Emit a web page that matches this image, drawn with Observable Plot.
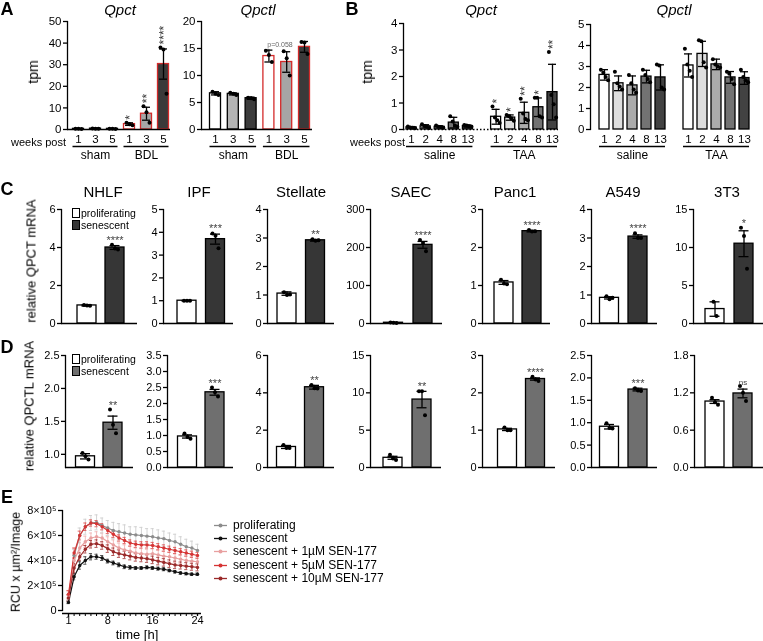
<!DOCTYPE html>
<html><head><meta charset="utf-8">
<script src="https://cdn.jsdelivr.net/npm/d3@7"></script>
<script src="https://cdn.jsdelivr.net/npm/@observablehq/plot@0.6"></script>
<style>
body{margin:0;background:#fff;font-family:Arial,"Liberation Sans",sans-serif;color:#000;}
#fig{position:relative;width:763px;height:641px;overflow:hidden;background:#fff;}
.abs{position:absolute;white-space:nowrap;opacity:0.999;will-change:transform;}
</style></head><body><div id="fig"></div>
<script>
// ---------------- DATA ----------------
// Panel A (tpm, mean, SD, replicates)
const aGroups = ["sham", "BDL"];
const aWeeks = ["1", "3", "5"];
const aQpctMean = [0.3, 0.4, 0.3, 2.5, 7.3, 30.3];
const aQpctErr = [0.1, 0.1, 0.1, 0.6, 3.0, 7.0];
const aQpctPts = [[0.3,0.3,0.2],[0.5,0.4,0.3],[0.3,0.3,0.2],[3.1,2.4,2.0],[10.8,8.0,3.1],[38,37,16.5]];
const aQpctStars = ["", "", "", "*", "**", "****"];
const aQpctTicks = [0, 10, 20, 30, 40, 50];
const aQpctlMean = [6.7, 6.6, 5.8, 13.6, 12.5, 15.3];
const aQpctlErr = [0.3, 0.2, 0.2, 1.1, 1.9, 1.0];
const aQpctlPts = [[7.0,6.6,6.4],[6.8,6.6,6.4],[5.9,5.8,5.6],[14.6,13.8,12.5],[14.5,13.2,10.0],[16.2,16.1,14.0]];
const aQpctlTicks = [0, 5, 10, 15, 20];
const aQpctlNote = "p=0.058";

// Panel B
const bGroups = ["saline", "TAA"];
const bWeeks = ["1", "2", "4", "8", "13"];
const bQpctMean = [0.08,0.12,0.10,0.26,0.13, 0.48,0.45,0.63,0.84,1.41];
const bQpctErr = [0.03,0.06,0.04,0.2,0.04, 0.28,0.1,0.4,0.35,1.05];
const bQpctPts = [[0.11,0.08,0.07,0.05],[0.2,0.13,0.1,0.06],[0.15,0.1,0.09,0.07],[0.5,0.3,0.15,0.1],[0.17,0.15,0.12,0.1],
                  [0.87,0.45,0.35,0.25],[0.55,0.5,0.42,0.33],[1.16,0.6,0.4,0.35],[1.2,1.2,0.5,0.45],[2.92,1.3,0.95,0.45]];
const bQpctStars = ["", "", "", "", "", "*", "*", "**", "*", "**"];
const bQpctTicks = [0, 1, 2, 3, 4];
const bQpctlMean = [2.6,2.2,2.1,2.52,2.48, 3.05,3.6,3.1,2.48,2.45];
const bQpctlErr = [0.25,0.35,0.45,0.3,0.6, 0.55,0.6,0.25,0.28,0.3];
const bQpctlPts = [[2.85,2.7,2.5,2.35],[2.75,2.2,2.05,1.9],[2.6,2.2,1.9,1.75],[2.85,2.6,2.4,2.25],[3.1,3.05,2.0,1.9],
                   [3.85,3.1,2.8,2.5],[4.25,4.2,3.2,2.95],[3.35,3.1,3.0,2.95],[2.75,2.65,2.4,2.15],[2.85,2.5,2.35,2.25]];
const bQpctlTicks = [0, 1, 2, 3, 4, 5];

// Panels C and D
const cellLines = ["NHLF", "IPF", "Stellate", "SAEC", "Panc1", "A549", "3T3"];
const conditions = ["proliferating", "senescent"];
const qpctMean = [[0.95,4.0],[1.0,3.7],[1.05,2.92],[2,207],[1.08,2.43],[0.9,3.05],[1.9,10.5]];
const qpctErr = [[0.03,0.1],[0.01,0.22],[0.06,0.03],[0.5,9],[0.05,0.02],[0.04,0.06],[0.95,1.7]];
const qpctPts = [[[0.98,0.95,0.93],[4.15,3.95,3.9]], [[1.0,1.0,1.0],[3.95,3.85,3.3]], [[1.1,1.0,1.02],[2.96,2.9,2.92]],
                 [[2.5,2,1.5],[220,212,190]], [[1.15,1.05,1.03],[2.46,2.42,2.43]], [[0.96,0.85,0.9],[3.17,3.0,3.0]],
                 [[2.85,1.0],[12.6,11.5,7.2]]];
const qpctStars = ["****", "***", "**", "****", "****", "****", "*"];
const qpctTicks = [[0,2,4,6],[0,1,2,3,4,5],[0,1,2,3,4],[0,100,200,300],[0,1,2,3],[0,1,2,3,4],[0,5,10,15]];

const qpctlMean = [[0.97,1.48],[0.97,2.35],[1.1,4.3],[1.3,9.1],[1.02,2.37],[0.91,1.74],[1.06,1.19]];
const qpctlErr = [[0.04,0.1],[0.05,0.09],[0.08,0.1],[0.2,1.1],[0.03,0.03],[0.05,0.03],[0.03,0.07]];
const qpctlPts = [[[1.02,0.97,0.92],[1.68,1.45,1.32]], [[1.06,0.95,0.9],[2.5,2.35,2.22]], [[1.2,1.05,1.05],[4.42,4.25,4.23]],
                  [[1.7,1.2,1.0],[10.2,10.2,7.0]], [[1.07,1.0,1.0],[2.43,2.36,2.32]], [[0.99,0.88,0.87],[1.77,1.72,1.71]],
                  [[1.12,1.05,1.01],[1.31,1.2,1.07]]];
const qpctlStars = ["**", "***", "**", "**", "****", "***", "ns"];
const qpctlAxisMin = [0.8, 0, 0, 0, 0, 0, 0];
const qpctlTicks = [[1.0,1.5,2.0,2.5],[0,0.5,1,1.5,2,2.5,3,3.5],[0,2,4,6],[0,5,10,15],[0,1,2,3],[0,0.5,1,1.5,2,2.5],[0,0.6,1.2,1.8]];
const qpctlTickFmt = [".1f", ".1f", "d", "d", "d", ".1f", ".1f"];

// Panel E (RCU x µm²/Image, in units of 10^5)
const eTime = [1,2,3,4,5,6,7,8,9,10,11,12,13,14,15,16,17,18,19,20,21,22,23,24];
const eSeries = ["proliferating", "senescent", "senescent + 1µM SEN-177", "senescent + 5µM SEN-177", "senescent + 10µM SEN-177"];
const eProlif = [1.0,4.4,6.0,6.7,7.0,7.05,6.8,6.6,6.4,6.3,6.2,6.1,6.05,6.0,5.95,5.9,5.8,5.75,5.6,5.5,5.3,5.1,5.0,4.8];
const eSen    = [0.65,2.7,3.6,4.0,4.3,4.3,4.2,3.95,3.8,3.65,3.5,3.45,3.4,3.4,3.45,3.4,3.35,3.3,3.2,3.1,3.0,2.95,2.9,2.9];
const eSen1   = [1.2,4.0,5.0,5.5,5.8,5.9,5.8,5.5,5.25,5.0,4.85,4.75,4.6,4.55,4.5,4.55,4.45,4.35,4.3,4.2,4.1,4.0,3.95,3.9];
const eSen5   = [1.3,4.6,6.0,6.7,7.0,6.95,6.7,6.4,6.1,5.8,5.6,5.4,5.3,5.25,5.25,5.2,5.1,5.0,4.9,4.8,4.7,4.6,4.5,4.4];
const eSen10  = [1.0,3.4,4.3,4.9,5.3,5.35,5.2,4.95,4.7,4.55,4.45,4.35,4.25,4.2,4.15,4.05,3.95,3.85,3.75,3.65,3.6,3.55,3.5,3.45];
const eProlifErr = [0.3,0.5,0.6,0.6,0.6,0.6,0.6,0.6,0.65,0.65,0.65,0.6,0.65,0.65,0.6,0.65,0.65,0.6,0.6,0.6,0.6,0.6,0.55,0.5];
const eSenErr    = [0.1,0.25,0.3,0.3,0.25,0.2,0.2,0.15,0.15,0.15,0.15,0.15,0.12,0.12,0.12,0.12,0.12,0.12,0.1,0.1,0.1,0.1,0.1,0.1];
const eSen1Err   = [0.3,0.45,0.45,0.45,0.4,0.4,0.4,0.4,0.4,0.4,0.4,0.4,0.4,0.4,0.4,0.4,0.4,0.38,0.38,0.35,0.35,0.35,0.35,0.35];
const eSen5Err   = [0.3,0.4,0.35,0.3,0.25,0.25,0.25,0.25,0.25,0.25,0.25,0.25,0.25,0.25,0.25,0.25,0.25,0.25,0.25,0.25,0.25,0.25,0.25,0.25];
const eSen10Err  = [0.25,0.35,0.3,0.3,0.3,0.3,0.3,0.3,0.3,0.3,0.3,0.3,0.3,0.3,0.3,0.3,0.3,0.3,0.3,0.3,0.28,0.28,0.28,0.28];
const eYTicks = [0, 2, 4, 6, 8];
const eXTicks = [1, 8, 16, 24];

// ---------------- HELPERS ----------------
const fig = document.getElementById("fig");
const FONT = 'Arial, "Liberation Sans", sans-serif';
const STYLE = {fontFamily: FONT, fontSize: "11px", background: "transparent", overflow: "visible", maxWidth: "none", color: "black"};

function addPlot(plot, left, top, width) {
  const d = document.createElement("div");
  d.className = "abs";
  d.style.left = left + "px"; d.style.top = top + "px"; d.style.width = width + "px";
  d.appendChild(plot); fig.appendChild(d);
}
function label(text, x, y, o = {}) {
  const d = document.createElement("div");
  d.className = "abs";
  d.textContent = text;
  d.style.left = x + "px"; d.style.top = y + "px";
  d.style.fontSize = (o.size || 12) + "px";
  d.style.lineHeight = "1";
  if (o.weight) d.style.fontWeight = o.weight;
  if (o.italic) d.style.fontStyle = "italic";
  if (o.color) d.style.color = o.color;
  const ax = o.anchor === "start" ? "0" : o.anchor === "end" ? "-100%" : "-50%";
  d.style.transform = `translate(${ax},-50%)` + (o.rotate ? ` rotate(${o.rotate}deg)` : "");
  fig.appendChild(d);
}

function barPanel(p) {
  const mL = 34, mR = 4, mT = 44, mB = 34;
  const left = p.x0 - mL, top = p.yTop - mT;
  const width = mL + (p.xEnd - p.x0) + mR;
  const height = mT + (p.yBottom - p.yTop) + mB;
  const n = p.domain.length;
  const step = (p.cN - p.c1) / (n - 1);
  const pin = 1 - p.bw / step;
  const r0 = p.c1 - step / 2 - left, r1 = p.cN + step / 2 - left;
  const y0 = p.yDomain[0];
  const rows = p.keys.map((k, i) => ({
    key: k, mean: p.mean[i], err: p.err[i], fill: p.fill[i], stroke: p.stroke[i],
    star: p.stars ? p.stars[i] : "", top: Math.max(p.mean[i] + p.err[i], ...p.pts[i])
  }));
  const pts = p.keys.flatMap((k, i) => p.pts[i].map((v, j, a) => ({key: k, v, dx: (j - (a.length - 1) / 2) * p.spread})));
  const inset = (p.bw - p.cap) / 2;
  const sw = 1.3;
  const marks = [
    Plot.barY(rows, {x: "key", y1: y0, y2: "mean", fill: "fill", stroke: "stroke", strokeWidth: sw}),
    Plot.ruleX(rows, {x: "key", y1: d => d.mean - d.err, y2: d => d.mean + d.err, strokeWidth: sw}),
    Plot.tickY(rows, {x: "key", y: d => d.mean + d.err, insetLeft: inset, insetRight: inset, strokeWidth: sw}),
    Plot.tickY(rows, {x: "key", y: d => d.mean - d.err, insetLeft: inset, insetRight: inset, strokeWidth: sw}),
  ];
  for (const [dx, arr] of d3.group(pts, d => d.dx)) {
    marks.push(Plot.dot(arr, {x: "key", y: "v", r: p.r || 2, fill: "black", dx}));
  }
  const starRows = rows.filter(d => d.star);
  if (p.starRotate) {
    marks.push(Plot.text(starRows, {x: "key", y: "top", text: "star", rotate: -90, textAnchor: "start", lineAnchor: "middle", dy: -3, dx: 1, fontSize: 12, fill: "#333"}));
  } else {
    marks.push(Plot.text(starRows, {x: "key", y: "top", text: "star", lineAnchor: "bottom", dy: -1, fontSize: d => d.star === "ns" ? 8 : 11, fill: "#444"}));
  }
  marks.push(Plot.axisY(p.ticks, {tickSize: 4, tickPadding: 2, tickFormat: p.fmt, fontSize: p.tickFont || 11, label: null, strokeWidth: sw}));
  marks.push(Plot.frame({anchor: "left", strokeWidth: sw}));
  if (!p.noBase) marks.push(Plot.ruleY([y0], {strokeWidth: sw, strokeDasharray: p.dash}));
  if (p.xLabels) {
    marks.push(Plot.axisX(p.keys, {tickSize: 0, tickPadding: 5, tickFormat: k => p.xLabels[p.keys.indexOf(k)], fontSize: 11.5, label: null}));
    marks.push(Plot.ruleY(p.groups, {x1: "first", x2: "last", y: y0, dy: 17, strokeWidth: sw}));
    marks.push(Plot.text(p.groups, {x: "mid", y: y0, text: "name", dy: 25.5, fontSize: 12}));
  }
  const plot = Plot.plot({
    width, height, marginLeft: mL, marginRight: mR, marginTop: mT, marginBottom: mB,
    x: {type: "band", domain: p.domain, range: [r0, r1], paddingInner: pin, paddingOuter: pin / 2, align: 0.5, round: false, axis: null},
    y: {domain: p.yDomain, axis: null},
    color: {type: "identity"},
    style: STYLE,
    marks
  });
  addPlot(plot, left, top, width);
}

// ---------------- PANEL A ----------------
const aKeys = aGroups.flatMap(g => aWeeks.map(w => g + " " + w));
const aLabels = aGroups.flatMap(g => aWeeks);
const aGroupRows = aGroups.map(g => ({name: g, first: g + " " + aWeeks[0], last: g + " " + aWeeks[aWeeks.length - 1], mid: g + " " + aWeeks[1]}));
const aFill = ["#ffffff", "#b4b4b4", "#3c3c3c", "#ffffff", "#a6a6a6", "#3a3a3a"];
const aStroke = ["#000", "#000", "#000", "#d42a2a", "#d42a2a", "#d42a2a"];
barPanel({keys: aKeys, domain: aKeys, mean: aQpctMean, err: aQpctErr, pts: aQpctPts, stars: aQpctStars, starRotate: true,
  fill: aFill, stroke: aStroke, yDomain: [0, 50], ticks: aQpctTicks, fmt: d3.format("d"), tickFont: 11.5,
  x0: 67, xEnd: 170, yTop: 21, yBottom: 129, c1: 78, cN: 163, bw: 11, cap: 8, spread: 3,
  xLabels: aLabels, groups: aGroupRows});
barPanel({keys: aKeys, domain: aKeys, mean: aQpctlMean, err: aQpctlErr, pts: aQpctlPts,
  fill: aFill, stroke: aStroke, yDomain: [0, 20], ticks: aQpctlTicks, fmt: d3.format("d"), tickFont: 11.5,
  x0: 201, xEnd: 312, yTop: 21, yBottom: 129, c1: 215, cN: 304, bw: 11, cap: 8, spread: 3,
  xLabels: aLabels, groups: aGroupRows});
label("A", 7, 9, {size: 18, weight: "bold"});
label("Qpct", 120, 9, {size: 15, italic: true});
label("Qpctl", 258, 9, {size: 15, italic: true});
label("tpm", 33, 72, {size: 14, rotate: -90});
label("weeks post", 66, 142, {size: 11, anchor: "end"});
label(aQpctlNote, 280, 44, {size: 7, color: "#666"});

// ---------------- PANEL B ----------------
const bKeysAll = bGroups.flatMap(g => bWeeks.map(w => g + " " + w));
const bDomain = [...bKeysAll.slice(0, 5), "gap", ...bKeysAll.slice(5)];
const bLabels = bGroups.flatMap(g => bWeeks);
const bGroupRows = bGroups.map(g => ({name: g, first: g + " " + bWeeks[0], last: g + " " + bWeeks[bWeeks.length - 1], mid: g + " " + bWeeks[2]}));
const bFill = ["#ffffff", "#dedede", "#ababab", "#737373", "#424242", "#ffffff", "#dedede", "#ababab", "#737373", "#424242"];
const bStroke = bFill.map(() => "#000");
barPanel({keys: bKeysAll, domain: bDomain, mean: bQpctMean, err: bQpctErr, pts: bQpctPts, stars: bQpctStars, starRotate: true,
  fill: bFill, stroke: bStroke, yDomain: [0, 4], ticks: bQpctTicks, fmt: d3.format("d"), tickFont: 11.5,
  x0: 403, xEnd: 558, yTop: 23, yBottom: 129, c1: 411, cN: 552, bw: 10, cap: 8, spread: 2.4, dash: "1.5,2",
  xLabels: bLabels, groups: bGroupRows});
barPanel({keys: bKeysAll, domain: bDomain, mean: bQpctlMean, err: bQpctlErr, pts: bQpctlPts,
  fill: bFill, stroke: bStroke, yDomain: [0, 5], ticks: bQpctlTicks, fmt: d3.format("d"), tickFont: 11.5,
  x0: 590, xEnd: 752, yTop: 24, yBottom: 129, c1: 604, cN: 744, bw: 10, cap: 8, spread: 2.4, noBase: true,
  xLabels: bLabels, groups: bGroupRows});
label("B", 352, 9, {size: 18, weight: "bold"});
label("Qpct", 481, 9, {size: 15, italic: true});
label("Qpctl", 674, 9, {size: 15, italic: true});
label("tpm", 367, 72, {size: 14, rotate: -90});
label("weeks post", 405, 142, {size: 11, anchor: "end"});

// ---------------- PANELS C & D ----------------
const cLayout = {x0: [61,163,267,370,482,591,693], xEnd: [137,233,334,442,550,657,763],
  c1: [86.5,186.5,286.5,393,503.5,609,714.5], c2: [114.5,215,315,422.5,531.5,637.5,743.5],
  title: [103,199,301,411,515,623,727]};
const dLayout = {x0: [65,167,267,370,482,591,694], xEnd: [133,233,334,441,555,657,763],
  c1: [85,187,286,392.5,507,609,714.5], c2: [112.5,214.5,314,421.5,535,637.5,742.5]};
cellLines.forEach((name, i) => {
  barPanel({keys: conditions, domain: conditions, mean: qpctMean[i], err: qpctErr[i], pts: qpctPts[i], stars: ["", qpctStars[i]],
    fill: ["#ffffff", "#363636"], stroke: ["#000", "#000"], yDomain: [0, qpctTicks[i][qpctTicks[i].length - 1]], ticks: qpctTicks[i],
    fmt: d3.format("d"), tickFont: 11, x0: cLayout.x0[i], xEnd: cLayout.xEnd[i], yTop: 209, yBottom: 323,
    c1: cLayout.c1[i], cN: cLayout.c2[i], bw: 19, cap: 10, spread: 3});
  label(name, cLayout.title[i], 191, {size: 15});
  barPanel({keys: conditions, domain: conditions, mean: qpctlMean[i], err: qpctlErr[i], pts: qpctlPts[i], stars: ["", qpctlStars[i]],
    fill: ["#ffffff", "#6f6f6f"], stroke: ["#000", "#000"], yDomain: [qpctlAxisMin[i], qpctlTicks[i][qpctlTicks[i].length - 1]], ticks: qpctlTicks[i],
    fmt: d3.format(qpctlTickFmt[i]), tickFont: 11, x0: dLayout.x0[i], xEnd: dLayout.xEnd[i], yTop: 355, yBottom: 467,
    c1: dLayout.c1[i], cN: dLayout.c2[i], bw: 19, cap: 10, spread: 3});
});
label("C", 7, 189, {size: 18, weight: "bold"});
label("D", 7, 347, {size: 18, weight: "bold"});
label("relative QPCT mRNA", 31, 261, {size: 13, rotate: -90});
label("relative QPCTL mRNA", 29, 406, {size: 13, rotate: -90});

function legendCD(x, y, fills) {
  conditions.forEach((c, i) => {
    const d = document.createElement("div");
    d.className = "abs";
    d.style.left = x + "px"; d.style.top = (y + i * 11.5 - 5) + "px";
    d.style.fontSize = "10.5px"; d.style.lineHeight = "10px";
    d.innerHTML = `<span style="display:inline-block;width:6px;height:8px;border:1px solid #000;background:${fills[i]};vertical-align:top;margin-right:1px"></span>${c}`;
    fig.appendChild(d);
  });
}
legendCD(72, 213, ["#ffffff", "#363636"]);
legendCD(72, 359, ["#ffffff", "#6f6f6f"]);

// ---------------- PANEL E ----------------
const eVals = [eProlif, eSen, eSen1, eSen5, eSen10];
const eErrs = [eProlifErr, eSenErr, eSen1Err, eSen5Err, eSen10Err];
const eColors = ["#8c8c8c", "#111111", "#e8a0a0", "#d63434", "#9a2a2a"];
const eErrColors = ["#cfcfcf", "#444444", "#f0b4b4", "#e05a5a", "#a84040"];
const eRows = eSeries.flatMap((s, k) => eTime.map((t, i) => ({s, t, v: eVals[k][i] * 1e5, e: eErrs[k][i] * 1e5, col: eColors[k], ecol: eErrColors[k]})));
{
  const left = 22, top = 500, width = 190, height = 141;
  const plot = Plot.plot({
    width, height, marginLeft: 40, marginRight: 11, marginTop: 10, marginBottom: 31,
    x: {domain: [1, 24], range: [68 - left, 197 - left], axis: null},
    y: {domain: [0, 8e5], axis: null},
    color: {type: "identity"},
    style: STYLE,
    marks: [
      Plot.ruleX(eRows, {x: "t", y1: d => d.v - d.e, y2: d => d.v + d.e, stroke: "ecol", strokeWidth: 0.9}),
      Plot.ruleY(eRows, {x1: d => d.t - 0.28, x2: d => d.t + 0.28, y: d => d.v + d.e, stroke: "ecol", strokeWidth: 0.9}),
      Plot.ruleY(eRows, {x1: d => d.t - 0.28, x2: d => d.t + 0.28, y: d => d.v - d.e, stroke: "ecol", strokeWidth: 0.9}),
      Plot.line(eRows, {x: "t", y: "v", z: "s", stroke: "col", strokeWidth: 1.2}),
      Plot.dot(eRows, {x: "t", y: "v", fill: "col", r: 1.7}),
      Plot.frame({anchor: "left", strokeWidth: 1.3}),
      Plot.ruleY([0], {dy: 3, strokeWidth: 1.3}),
      Plot.axisX(eTime, {tickSize: 3, dy: 3, tickFormat: () => "", label: null, strokeWidth: 1}),
      Plot.axisX(eXTicks, {tickSize: 3, dy: 3, tickPadding: 0, fontSize: 11, label: null, strokeWidth: 1.3}),
      Plot.axisY(eYTicks.map(v => v * 1e5), {tickSize: 4, tickPadding: 2, fontSize: 11, label: null, strokeWidth: 1.3,
        tickFormat: d => d === 0 ? "0" : `${d / 1e5}×10⁵`})
    ]
  });
  addPlot(plot, left, top, width);
}
label("E", 7, 497, {size: 18, weight: "bold"});
label("RCU x µm²/Image", 16, 562, {size: 12.5, rotate: -90});
label("time [h]", 137, 633.5, {size: 13});
eSeries.forEach((s, k) => {
  const d = document.createElement("div");
  d.className = "abs";
  d.style.left = "213px"; d.style.top = (525 + k * 13.2 - 7) + "px";
  d.style.fontSize = "12px"; d.style.lineHeight = "14px";
  d.innerHTML = `<svg width="16" height="14" style="vertical-align:top;margin-right:4px"><line x1="1" x2="14" y1="7.5" y2="7.5" stroke="${eColors[k]}" stroke-width="1.3"/><circle cx="7.5" cy="7.5" r="2" fill="${eColors[k]}"/></svg>${s}`;
  fig.appendChild(d);
});
</script></body></html>
